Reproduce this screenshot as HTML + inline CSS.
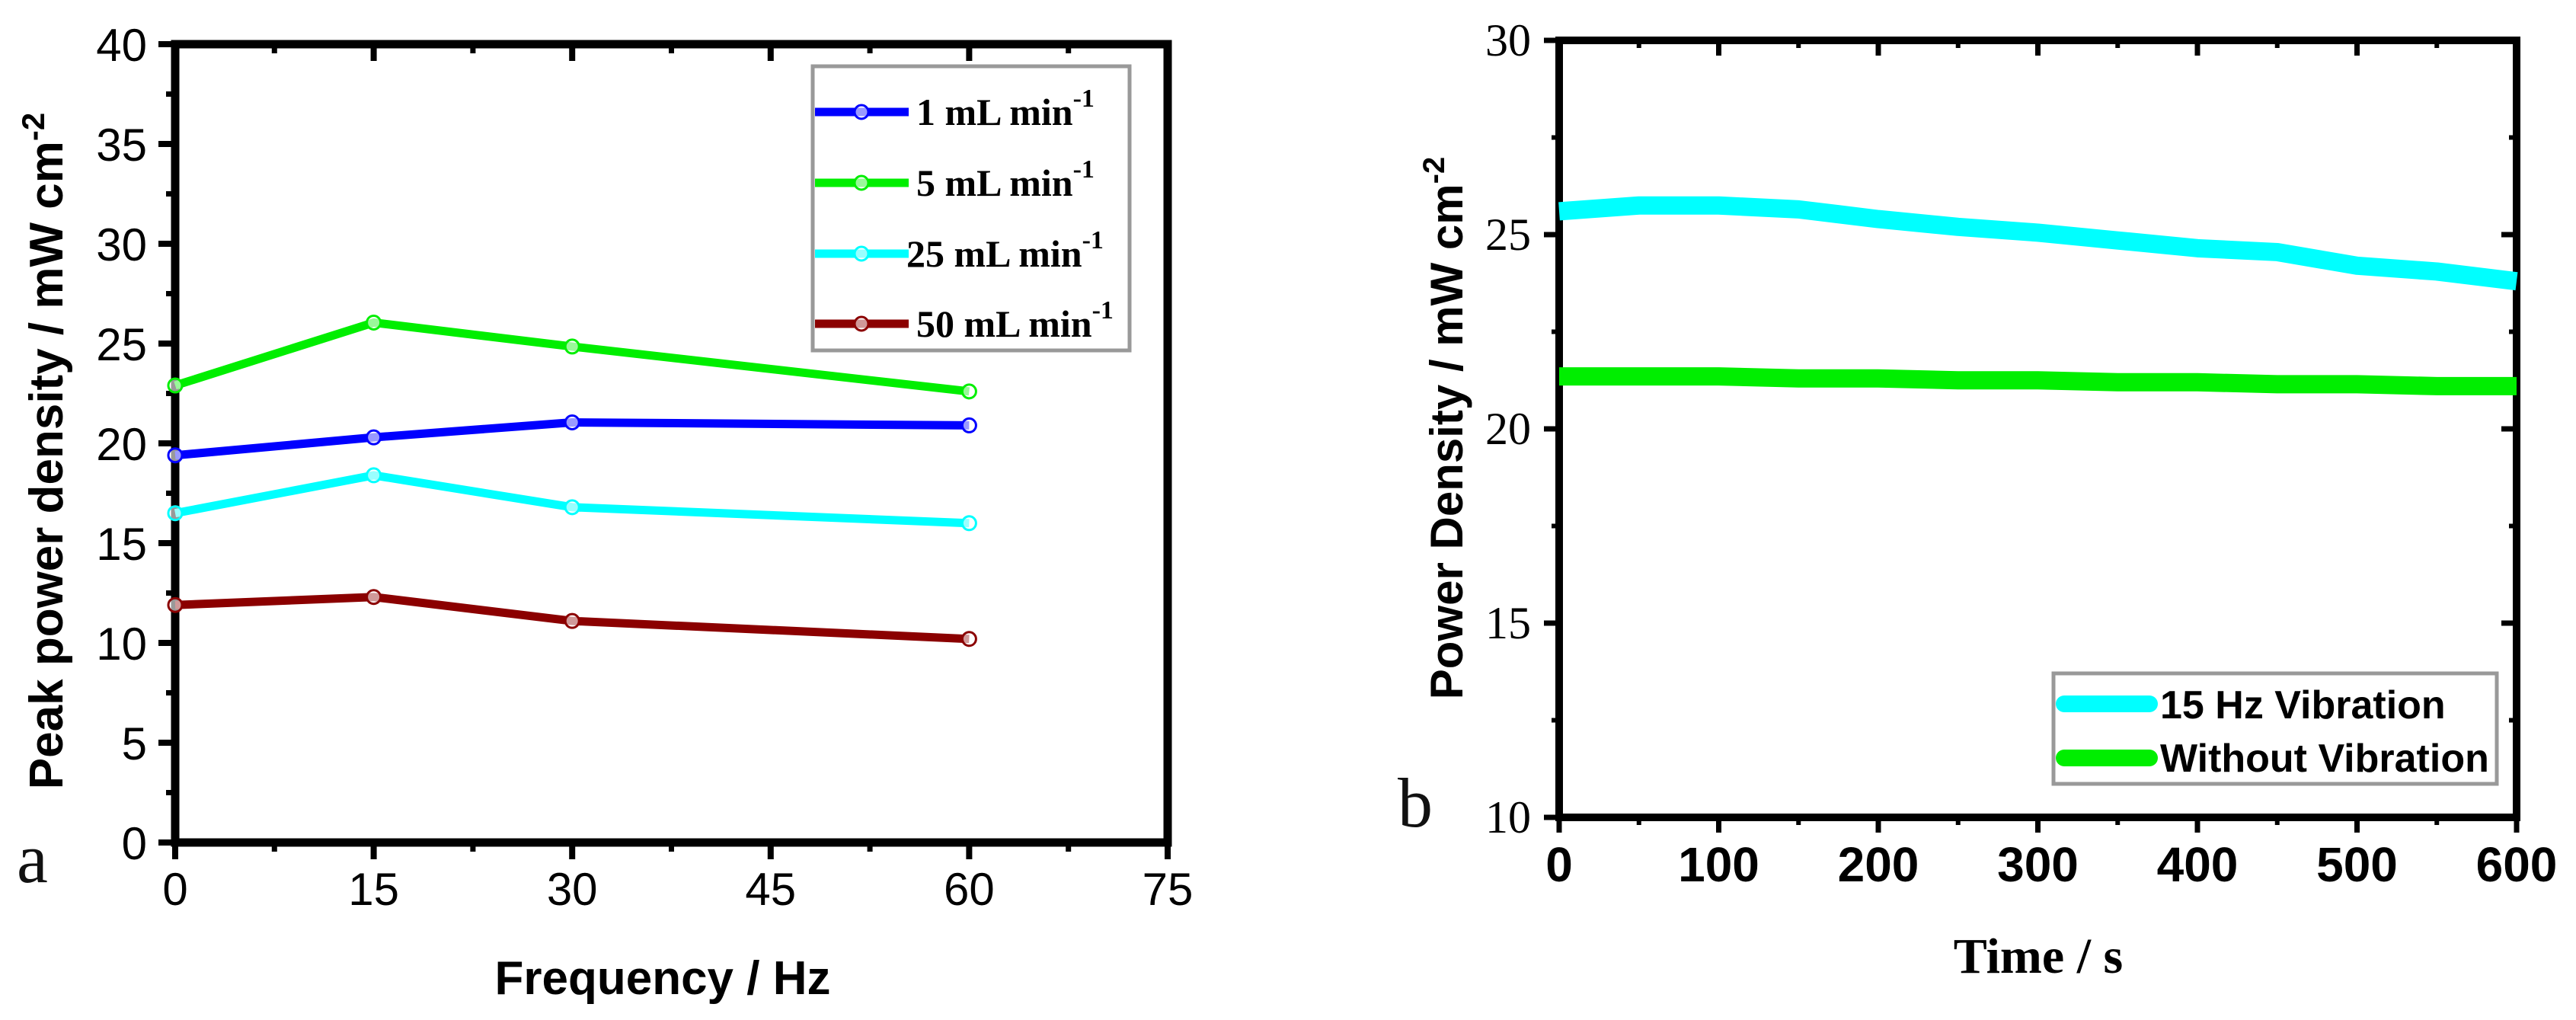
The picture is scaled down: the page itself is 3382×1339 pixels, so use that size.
<!DOCTYPE html>
<html><head><meta charset="utf-8"><style>
html,body{margin:0;padding:0;background:#fff;width:3382px;height:1339px;overflow:hidden}
svg{display:block}
</style></head><body>
<svg id="fig" width="3382" height="1339" viewBox="0 0 3382 1339" xmlns="http://www.w3.org/2000/svg">
<g id="chartA"></g>
<g id="chartB"></g>
</svg>
<script>
// ---- Chart A data ----
const freqCats = [0, 15, 30, 60];
const series1 = [19.4, 20.3, 21.05, 20.9];
const series5 = [22.9, 26.05, 24.85, 22.6];
const series25 = [16.5, 18.4, 16.8, 16.0];
const series50 = [11.9, 12.3, 11.1, 10.2];
const seriesNamesA = ["1 mL min", "5 mL min", "25 mL min", "50 mL min"];
const xTicksA = [0, 15, 30, 45, 60, 75];
const yTicksA = [0, 5, 10, 15, 20, 25, 30, 35, 40];
// ---- Chart B data ----
const timeVals = [0, 50, 100, 150, 200, 250, 300, 350, 400, 450, 500, 550, 600];
const vib15 = [25.6, 25.75, 25.75, 25.65, 25.4, 25.2, 25.05, 24.85, 24.65, 24.55, 24.2, 24.05, 23.8];
const noVib = [21.35, 21.35, 21.35, 21.3, 21.3, 21.25, 21.25, 21.2, 21.2, 21.15, 21.15, 21.1, 21.1];
const xTicksB = [0, 100, 200, 300, 400, 500, 600];
const yTicksB = [10, 15, 20, 25, 30];

const NS = "http://www.w3.org/2000/svg";
function mk(parent, tag, attrs, text){
  const e = document.createElementNS(NS, tag);
  for (const k in attrs) e.setAttribute(k, attrs[k]);
  if (text !== undefined) e.textContent = text;
  parent.appendChild(e);
  return e;
}

// ---------- Chart A ----------
(function(){
  const g = document.getElementById('chartA');
  const L=230, R=1533, T=58, B=1106;
  const xA = v => L + (v-0)/75*(R-L);
  const yA = v => B - (v-0)/40*(B-T);
  const colors = ["#0000ff", "#00ee00", "#00ffff", "#8b0000"];
  const data = [series1, series5, series25, series50];
  // ticks
  xTicksA.forEach((t,i)=>{
    const tk = mk(g,'line',{x1:xA(t),x2:xA(t),y1:B,y2:B+22,stroke:'#000','stroke-width':8});
    
    
    const tt = mk(g,'line',{x1:xA(t),x2:xA(t),y1:T,y2:T+22,stroke:'#000','stroke-width':8});
    
    
    if (i < xTicksA.length-1){
      const m = (t + xTicksA[i+1])/2;
      const mt = mk(g,'line',{x1:xA(m),x2:xA(m),y1:B,y2:B+12,stroke:'#000','stroke-width':7});
      
      
      const mt2 = mk(g,'line',{x1:xA(m),x2:xA(m),y1:T,y2:T+12,stroke:'#000','stroke-width':7});
      
      
    }
    const lb = mk(g,'text',{x:xA(t),y:1188,'text-anchor':'middle','font-family':'Liberation Sans, sans-serif','font-size':60},String(t));
    
    
  });
  yTicksA.forEach((t,i)=>{
    const tk = mk(g,'line',{x1:L-22,x2:L,y1:yA(t),y2:yA(t),stroke:'#000','stroke-width':8});
    
    
    if (i < yTicksA.length-1){
      const m = (t + yTicksA[i+1])/2;
      const mt = mk(g,'line',{x1:L-12,x2:L,y1:yA(m),y2:yA(m),stroke:'#000','stroke-width':7});
      
      
    }
    const lb = mk(g,'text',{x:193,y:yA(t)+22,'text-anchor':'end','font-family':'Liberation Sans, sans-serif','font-size':60},String(t));
    
    
  });
  const frame = mk(g,'rect',{x:L,y:T,width:R-L,height:B-T,fill:'none',stroke:'#000','stroke-width':11});
  
  
  // series
  data.forEach((s,si)=>{
    const pts = freqCats.map((f,i)=>xA(f)+','+yA(s[i])).join(' ');
    const pl = mk(g,'polyline',{points:pts,fill:'none',stroke:colors[si],'stroke-width':11,'stroke-linejoin':'round'});
    
    
    freqCats.forEach((f,i)=>{
      const c = mk(g,'circle',{cx:xA(f),cy:yA(s[i]),r:9,fill:'#fff','fill-opacity':0.6,stroke:colors[si],'stroke-width':3});
      
      
    });
  });
  // legend
  const lg = mk(g,'g',{});
  
  
  mk(lg,'rect',{x:1067,y:87,width:416,height:373,fill:'#fff',stroke:'#999','stroke-width':5});
  const ly = [147,240,333,425];
  const tx = [1203,1203,1190,1203];
  seriesNamesA.forEach((n,i)=>{
    const e = mk(lg,'g',{});
    
    
    mk(e,'line',{x1:1070,x2:1193,y1:ly[i],y2:ly[i],stroke:colors[i],'stroke-width':11});
    mk(e,'circle',{cx:1131,cy:ly[i],r:9,fill:'#fff','fill-opacity':0.6,stroke:colors[i],'stroke-width':3});
    const t = mk(e,'text',{x:tx[i],y:ly[i]+17,'font-family':'Liberation Serif, serif','font-weight':'bold','font-size':50},n);
    mk(t,'tspan',{dy:-24,'font-size':34},'-1');
  });
  const yl = mk(g,'text',{x:0,y:0,transform:'translate(82,592) rotate(-90)','text-anchor':'middle','font-family':'Liberation Sans, sans-serif','font-weight':'bold','font-size':62},'Peak power density / mW cm');
  
  
  mk(yl,'tspan',{dy:-24,'font-size':42},'-2');
  const xl = mk(g,'text',{x:870,y:1305,'text-anchor':'middle','font-family':'Liberation Sans, sans-serif','font-weight':'bold','font-size':62},'Frequency / Hz');
  
  
  const pa = mk(g,'text',{x:22,y:1158,'font-family':'Liberation Serif, serif','font-size':92,fill:'#111'},'a');
  
  
})();

// ---------- Chart B ----------
(function(){
  const g = document.getElementById('chartB');
  const L=2047, R=3304, T=53, B=1073;
  const xB = v => L + v/600*(R-L);
  const yB = v => B - (v-10)/20*(B-T);
  xTicksB.forEach((t,i)=>{
    const tk = mk(g,'line',{x1:xB(t),x2:xB(t),y1:B,y2:B+20,stroke:'#000','stroke-width':7});
    
    
    const tt = mk(g,'line',{x1:xB(t),x2:xB(t),y1:T,y2:T+20,stroke:'#000','stroke-width':7});
    
    
    if (i < xTicksB.length-1){
      const m=(t+xTicksB[i+1])/2;
      const a = mk(g,'line',{x1:xB(m),x2:xB(m),y1:B,y2:B+10,stroke:'#000','stroke-width':6});
      
      
      const b = mk(g,'line',{x1:xB(m),x2:xB(m),y1:T,y2:T+10,stroke:'#000','stroke-width':6});
      
      
    }
    const lb = mk(g,'text',{x:xB(t),y:1157,'text-anchor':'middle','font-family':'Liberation Sans, sans-serif','font-weight':'bold','font-size':64},String(t));
    
    
  });
  yTicksB.forEach((t,i)=>{
    const tk = mk(g,'line',{x1:L-20,x2:L,y1:yB(t),y2:yB(t),stroke:'#000','stroke-width':7});
    
    
    const tr = mk(g,'line',{x1:R-20,x2:R,y1:yB(t),y2:yB(t),stroke:'#000','stroke-width':7});
    
    
    if (i < yTicksB.length-1){
      const m=(t+yTicksB[i+1])/2;
      const a = mk(g,'line',{x1:L-10,x2:L,y1:yB(m),y2:yB(m),stroke:'#000','stroke-width':6});
      
      
      const b = mk(g,'line',{x1:R-10,x2:R,y1:yB(m),y2:yB(m),stroke:'#000','stroke-width':6});
      
      
    }
    const lb = mk(g,'text',{x:2010,y:yB(t)+20,'text-anchor':'end','font-family':'Liberation Serif, serif','font-size':60},String(t));
    
    
  });
  const frame = mk(g,'rect',{x:L,y:T,width:R-L,height:B-T,fill:'none',stroke:'#000','stroke-width':10});
  
  
  const l1 = mk(g,'polyline',{points:timeVals.map((t,i)=>xB(t)+','+yB(vib15[i])).join(' '),fill:'none',stroke:'#00ffff','stroke-width':24,'stroke-linejoin':'round'});
  
  
  const l2 = mk(g,'polyline',{points:timeVals.map((t,i)=>xB(t)+','+yB(noVib[i])).join(' '),fill:'none',stroke:'#00ee00','stroke-width':24,'stroke-linejoin':'round'});
  
  
  const lg = mk(g,'g',{});
  
  
  mk(lg,'rect',{x:2696,y:884,width:582,height:145,fill:'#fff',stroke:'#999','stroke-width':5});
  const e1 = mk(lg,'g',{});
  
  
  mk(e1,'line',{x1:2710,x2:2822,y1:924,y2:924,stroke:'#00ffff','stroke-width':22,'stroke-linecap':'round'});
  mk(e1,'text',{x:2836,y:943,'font-family':'Liberation Sans, sans-serif','font-weight':'bold','font-size':52},'15 Hz Vibration');
  const e2 = mk(lg,'g',{});
  
  
  mk(e2,'line',{x1:2710,x2:2822,y1:995,y2:995,stroke:'#00ee00','stroke-width':22,'stroke-linecap':'round'});
  mk(e2,'text',{x:2836,y:1013,'font-family':'Liberation Sans, sans-serif','font-weight':'bold','font-size':52},'Without Vibration');
  const yl = mk(g,'text',{x:0,y:0,transform:'translate(1920,562) rotate(-90)','text-anchor':'middle','font-family':'Liberation Sans, sans-serif','font-weight':'bold','font-size':60},'Power Density / mW cm');
  
  
  mk(yl,'tspan',{dy:-24,'font-size':40},'-2');
  const xl = mk(g,'text',{x:2676,y:1277,'text-anchor':'middle','font-family':'Liberation Serif, serif','font-weight':'bold','font-size':66},'Time / s');
  
  
  const pb = mk(g,'text',{x:1835,y:1085,'font-family':'Liberation Serif, serif','font-size':92,fill:'#111'},'b');
  
  
})();
</script>
</body></html>
